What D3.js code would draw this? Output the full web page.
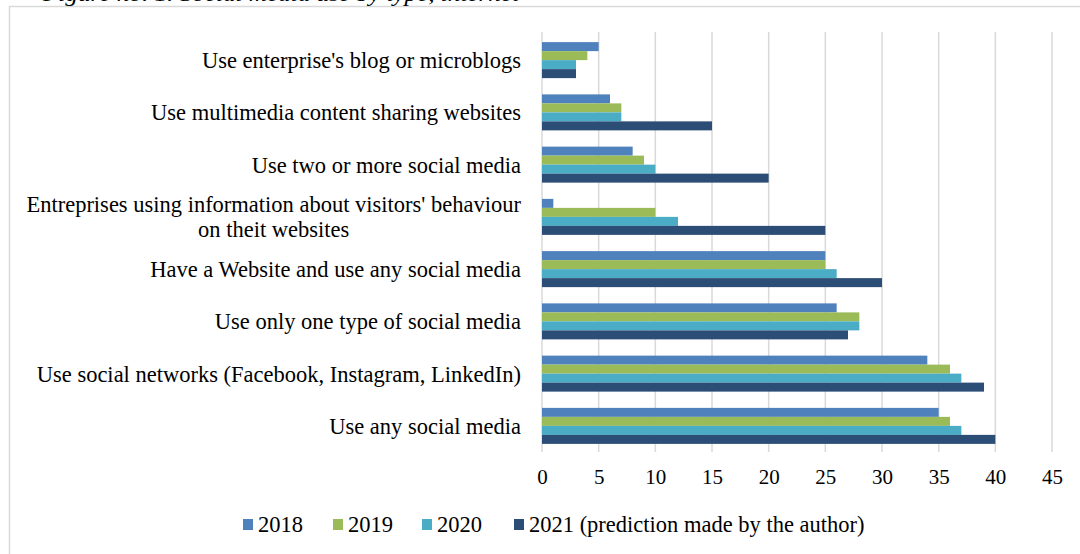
<!DOCTYPE html>
<html>
<head>
<meta charset="utf-8">
<script src="https://cdn.jsdelivr.net/npm/d3@7"></script>
<style>
  html, body { margin: 0; padding: 0; background: #fff; }
  svg { display: block; font-family: "Liberation Serif", "Times New Roman", serif; }
</style>
</head>
<body>
<svg id="chart" width="1080" height="554"></svg>
<script>
const categories = [
  ["Use enterprise's blog or microblogs"],
  ["Use multimedia content sharing websites"],
  ["Use two or more social media"],
  ["Entreprises using information about visitors' behaviour", "on theit websites"],
  ["Have a Website and use any social media"],
  ["Use only one type of social media"],
  ["Use social networks (Facebook, Instagram, LinkedIn)"],
  ["Use any social media"]
];
const seriesNames = ["2018", "2019", "2020", "2021 (prediction made by the author)"];
const values2018 = [5, 6, 8, 1, 25, 26, 34, 35];
const values2019 = [4, 7, 9, 10, 25, 28, 36, 36];
const values2020 = [3, 7, 10, 12, 26, 28, 37, 37];
const values2021 = [3, 15, 20, 25, 30, 27, 39, 40];
const xTicks = [0, 5, 10, 15, 20, 25, 30, 35, 40, 45];
const colors = ["#4F81BD", "#9BBB59", "#4BACC6", "#2C4D75"];
const caption = "Figure no. 1. Social media use by type, internet";

const series = [values2018, values2019, values2020, values2021];
const svg = d3.select("#chart");

// frame
svg.append("rect").attr("x", 9.5).attr("y", 6.5).attr("width", 1200).attr("height", 700)
  .attr("fill", "none").attr("stroke", "#d9d9d9").attr("stroke-width", 1.5);

// caption (cut off at top, as in the source page)
svg.append("text").attr("x", 43).attr("y", 0.5)
  .attr("font-style", "italic").attr("font-size", 22)
  .attr("textLength", 476).attr("lengthAdjust", "spacingAndGlyphs")
  .attr("fill", "#000").text(caption);

const x = d3.scaleLinear().domain([0, 45]).range([542, 1052]);
const keys = categories.map((c, i) => i);
const y = d3.scaleBand().domain(keys).range([34, 452]).paddingInner(0).paddingOuter(0);
const inner = d3.scaleBand().domain(d3.range(series.length)).range([0, 36]);
const groupOffset = (y.bandwidth() - 36) / 2;

// gridlines
svg.append("g").selectAll("line").data(xTicks).join("line")
  .attr("x1", d => x(d)).attr("x2", d => x(d))
  .attr("y1", 32).attr("y2", 452)
  .attr("stroke", "#d9d9d9").attr("stroke-width", 1.5);

// bars
series.forEach((vals, si) => {
  svg.append("g").selectAll("rect").data(vals).join("rect")
    .attr("x", x(0))
    .attr("y", (d, i) => y(i) + groupOffset + inner(si))
    .attr("width", d => x(d) - x(0))
    .attr("height", inner.bandwidth())
    .attr("fill", colors[si]);
});

// x axis tick labels
const xAxis = d3.axisBottom(x).tickValues(xTicks).tickSize(0).tickPadding(0).tickFormat(d3.format("d"));
const gx = svg.append("g").attr("transform", "translate(0,469)").call(xAxis);
gx.select(".domain").remove();
gx.selectAll("text").attr("font-size", 21).attr("font-family", "Liberation Serif, serif").attr("fill", "#000");

// category labels
const labelRight = 521;
categories.forEach((lines, i) => {
  const cy = y(i) + y.bandwidth() / 2;
  const lh = 25;
  const g = svg.append("g");
  const t = g.selectAll("text").data(lines).join("text")
    .attr("font-size", 22.5).attr("fill", "#000")
    .attr("y", (d, j) => cy + (j - (lines.length - 1) / 2) * lh)
    .attr("dy", "0.35em")
    .text(d => d);
  const maxW = d3.max(t.nodes(), n => n.getComputedTextLength());
  t.attr("text-anchor", "middle").attr("x", labelRight - maxW / 2);
});

// legend
const legendItems = [
  { sx: 243, tx: 258 },
  { sx: 333, tx: 348 },
  { sx: 422, tx: 437 },
  { sx: 514, tx: 529 }
];
const lg = svg.append("g");
seriesNames.forEach((name, i) => {
  lg.append("rect").attr("x", legendItems[i].sx).attr("y", 519).attr("width", 10).attr("height", 11)
    .attr("fill", colors[i]);
  lg.append("text").attr("x", legendItems[i].tx).attr("y", 532).attr("font-size", 22.5)
    .attr("fill", "#000").text(name);
});
</script>
</body>
</html>
